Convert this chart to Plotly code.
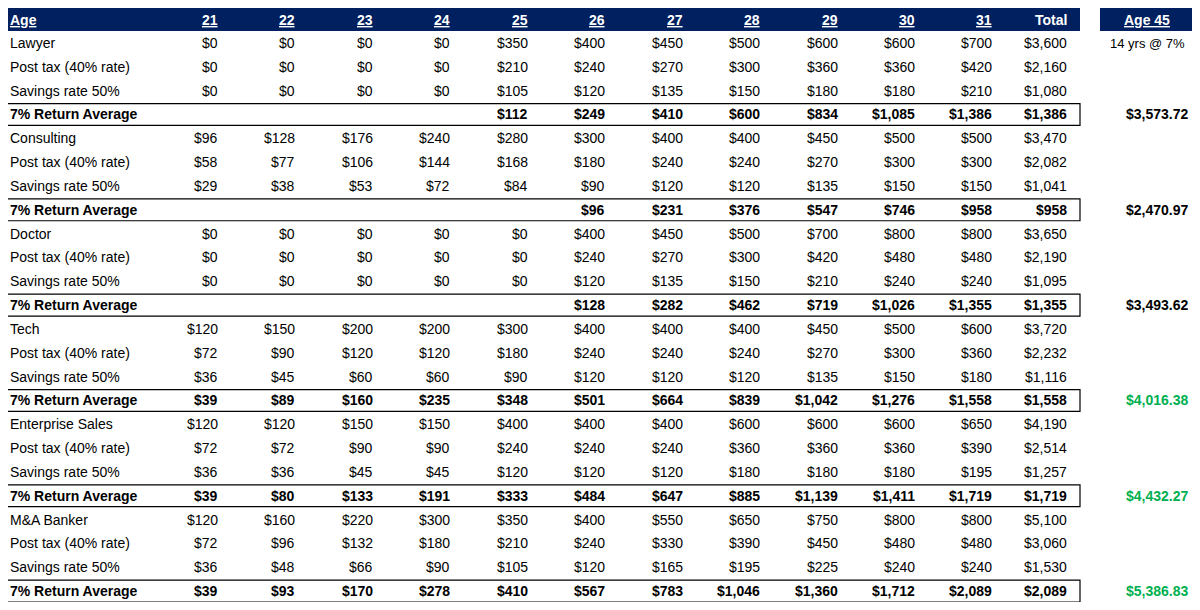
import plotly.graph_objects as go

ages = ["21", "22", "23", "24", "25", "26", "27", "28", "29", "30", "31"]
professions = ["Lawyer", "Consulting", "Doctor", "Tech", "Enterprise Sales", "M&A Banker"]

lawyer = [0, 0, 0, 0, 350, 400, 450, 500, 600, 600, 700, 3600]
lawyer_tax = [0, 0, 0, 0, 210, 240, 270, 300, 360, 360, 420, 2160]
lawyer_sav = [0, 0, 0, 0, 105, 120, 135, 150, 180, 180, 210, 1080]
lawyer_ret = [None, None, None, None, 112, 249, 410, 600, 834, 1085, 1386, 1386]

consult = [96, 128, 176, 240, 280, 300, 400, 400, 450, 500, 500, 3470]
consult_tax = [58, 77, 106, 144, 168, 180, 240, 240, 270, 300, 300, 2082]
consult_sav = [29, 38, 53, 72, 84, 90, 120, 120, 135, 150, 150, 1041]
consult_ret = [None, None, None, None, None, 96, 231, 376, 547, 746, 958, 958]

doctor = [0, 0, 0, 0, 0, 400, 450, 500, 700, 800, 800, 3650]
doctor_tax = [0, 0, 0, 0, 0, 240, 270, 300, 420, 480, 480, 2190]
doctor_sav = [0, 0, 0, 0, 0, 120, 135, 150, 210, 240, 240, 1095]
doctor_ret = [None, None, None, None, None, 128, 282, 462, 719, 1026, 1355, 1355]

tech = [120, 150, 200, 200, 300, 400, 400, 400, 450, 500, 600, 3720]
tech_tax = [72, 90, 120, 120, 180, 240, 240, 240, 270, 300, 360, 2232]
tech_sav = [36, 45, 60, 60, 90, 120, 120, 120, 135, 150, 180, 1116]
tech_ret = [39, 89, 160, 235, 348, 501, 664, 839, 1042, 1276, 1558, 1558]

sales = [120, 120, 150, 150, 400, 400, 400, 600, 600, 600, 650, 4190]
sales_tax = [72, 72, 90, 90, 240, 240, 240, 360, 360, 360, 390, 2514]
sales_sav = [36, 36, 45, 45, 120, 120, 120, 180, 180, 180, 195, 1257]
sales_ret = [39, 80, 133, 191, 333, 484, 647, 885, 1139, 1411, 1719, 1719]

banker = [120, 160, 220, 300, 350, 400, 550, 650, 750, 800, 800, 5100]
banker_tax = [72, 96, 132, 180, 210, 240, 330, 390, 450, 480, 480, 3060]
banker_sav = [36, 48, 66, 90, 105, 120, 165, 195, 225, 240, 240, 1530]
banker_ret = [39, 93, 170, 278, 410, 567, 783, 1046, 1360, 1712, 2089, 2089]

age45 = [3573.72, 2470.97, 3493.62, 4016.38, 4432.27, 5386.83]
age45_green = [False, False, False, True, True, True]

blocks = [
    (lawyer, lawyer_tax, lawyer_sav, lawyer_ret),
    (consult, consult_tax, consult_sav, consult_ret),
    (doctor, doctor_tax, doctor_sav, doctor_ret),
    (tech, tech_tax, tech_sav, tech_ret),
    (sales, sales_tax, sales_sav, sales_ret),
    (banker, banker_tax, banker_sav, banker_ret),
]

# layout in pixels (page coords)
col_right = [220, 297, 375, 452, 530, 607, 685, 762, 840, 917, 994, 1069]
row0, pitch = 43, 23.83
FONT = "Liberation Sans"
NAVY = "#002060"
GREEN = "#00B050"

ann = []
shapes = []


def txt(x, y, s, anchor="right", bold=False, color="black", size=14, underline=False):
    if bold:
        s = "<b>" + s + "</b>"
    if underline:
        s = "<u>" + s + "</u>"
    ann.append(dict(x=x, y=y, text=s, xanchor=anchor, yanchor="middle", showarrow=False,
                    font=dict(family=FONT, size=size, color=color), xref="x", yref="y"))


def money(v):
    return "" if v is None else "${:,}".format(v)


# header
shapes.append(dict(type="rect", x0=3, x1=1080, y0=8, y1=31, fillcolor=NAVY, line_width=0, layer="below"))
shapes.append(dict(type="rect", x0=1100, x1=1195, y0=8, y1=31, fillcolor=NAVY, line_width=0, layer="below"))
txt(8, 19.5, "Age", "left", True, "white", underline=True)
for i, a in enumerate(ages):
    txt(col_right[i], 19.5, a, "right", True, "white", underline=True)
txt(1069, 19.5, "Total", "right", True, "white")
txt(1147, 19.5, "Age 45", "center", True, "white", underline=True)
txt(1147, row0, "14 yrs @ 7%", "center", size=13)

labels = [None, "Post tax (40% rate)", "Savings rate 50%", "7% Return Average"]
for b, (name, rows) in enumerate(zip(professions, blocks)):
    for r, vals in enumerate(rows):
        y = row0 + (b * 4 + r) * pitch
        bold = r == 3
        txt(8, y, name if r == 0 else labels[r], "left", bold)
        for i, v in enumerate(vals):
            txt(col_right[i], y, money(v), "right", bold)
        if r == 3:
            shapes.append(dict(type="rect", x0=3, x1=1080, y0=y - pitch / 2 + 1, y1=y + pitch / 2 - 1,
                               line=dict(color="black", width=1.2)))
            txt(1190, y, "${:,.2f}".format(age45[b]), "right", True,
                GREEN if age45_green[b] else "black")

fig = go.Figure()
# page has an 8px body margin, so the figure is shrunk and its ranges offset to keep page coords
fig.update_layout(
    width=1184, height=594, margin=dict(l=0, r=0, t=0, b=0),
    plot_bgcolor="white", paper_bgcolor="white",
    xaxis=dict(range=[8, 1192], visible=False, fixedrange=True),
    yaxis=dict(range=[602, 8], visible=False, fixedrange=True),
    annotations=ann, shapes=shapes, showlegend=False,
)
fig.write_html("out.html")
